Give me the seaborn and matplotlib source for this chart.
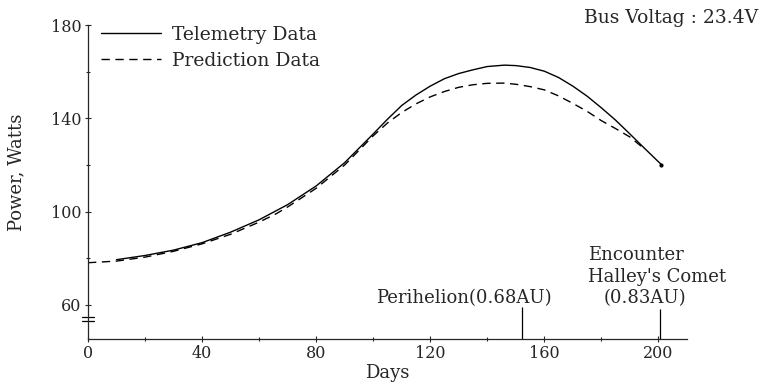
import numpy as np
import pandas as pd
import matplotlib
matplotlib.use("Agg")
import matplotlib.pyplot as plt
import seaborn as sns

# 遥测数据 (天, 功率 W)
tel_days = [10, 20, 30, 40, 50, 60, 70, 80, 90, 100, 105, 110, 115, 120, 125,
            130, 135, 140, 146, 150, 155, 160, 165, 170, 175, 180, 185, 190,
            195, 201]
tel_power = [79.4, 81.2, 83.5, 86.7, 91.2, 96.5, 103.0, 111.0, 121.0, 133.3,
             139.6, 145.5, 150.0, 153.8, 157.0, 159.2, 160.8, 162.2, 162.8,
             162.6, 161.8, 160.2, 157.5, 153.8, 149.5, 144.5, 139.2, 133.3,
             127.3, 120.2]

# 预测数据
pred_days = [0, 10, 20, 30, 40, 50, 60, 66, 70, 80, 90, 100, 105, 110, 115,
             120, 125, 130, 135, 140, 146, 150, 155, 160, 165, 170, 175, 180,
             185, 190, 195]
pred_power = [78.1, 78.8, 80.5, 83.0, 86.2, 90.3, 95.5, 99.1, 102.0, 110.0,
              120.0, 132.5, 138.0, 142.5, 146.2, 149.2, 151.5, 153.3, 154.4,
              155.0, 155.1, 154.6, 153.6, 152.2, 149.6, 146.4, 143.0, 139.0,
              135.6, 132.0, 127.0]

# 标注事件
event_days = [152, 200.5]

y_ticks = [60, 100, 140, 180]
x_ticks = [0, 40, 80, 120, 160, 200]

sns.set_style("ticks")
plt.rcParams['font.family'] = ['DejaVu Serif', 'Liberation Serif']
FS = 13.5
TFS = 11.5

df_tel = pd.DataFrame({'Days': tel_days, 'Power': tel_power})
df_pred = pd.DataFrame({'Days': pred_days, 'Power': pred_power})

fig = plt.figure(figsize=(7.63, 3.89), dpi=100)
ax = fig.add_axes([0.1153, 0.1285, 0.785, 0.8072])

sns.lineplot(data=df_tel, x='Days', y='Power', ax=ax, color='black',
             linewidth=1.0, sort=False, label='Telemetry Data')
sns.lineplot(data=df_pred, x='Days', y='Power', ax=ax, color='black',
             linewidth=1.0, sort=False, label='Prediction Data')
ax.lines[1].set_dashes([6, 4])
# 终点
ax.plot(tel_days[-1], tel_power[-1], 'o', color='black', markersize=2)

ax.set_xlim(0, 210)
ax.set_ylim(45.4, 180)
ax.set_xticks(x_ticks)
ax.set_yticks(y_ticks)
ax.set_xticks(range(20, 210, 40), minor=True)
ax.set_yticks([80, 120, 160], minor=True)
ax.tick_params(axis='both', which='major', direction='inout', length=5,
               width=0.8, labelsize=TFS, pad=2)
ax.tick_params(axis='both', which='minor', direction='inout', length=3,
               width=0.8)
sns.despine(ax=ax)
ax.spines['left'].set_linewidth(0.9)
ax.spines['bottom'].set_linewidth(0.9)

ax.set_xlabel('Days', fontsize=FS - 0.5, labelpad=1)
ax.set_ylabel('Power, Watts', fontsize=FS - 0.5)
ax.yaxis.set_label_coords(-0.105, 0.53)

# 轴断裂标记
for yb in [0.071, 0.058]:
    ax.plot([-0.01, 0.01], [yb, yb], transform=ax.transAxes,
            color='black', lw=0.9, clip_on=False)

# 事件标注
ax.vlines(event_days, 45.4, [59.1, 58.3], color='black', lw=0.9)
ax.text(0.628, 0.115, 'Perihelion(0.68AU)', transform=ax.transAxes,
        ha='center', va='baseline', fontsize=FS - 0.5)
ax.text(0.835, 0.252, 'Encounter', transform=ax.transAxes,
        ha='left', va='baseline', fontsize=FS - 0.5)
ax.text(0.835, 0.182, "Halley's Comet", transform=ax.transAxes,
        ha='left', va='baseline', fontsize=FS - 0.5)
ax.text(0.93, 0.115, '(0.83AU)', transform=ax.transAxes,
        ha='center', va='baseline', fontsize=FS - 0.5)

fig.text(0.993, 0.955, 'Bus Voltag : 23.4V', ha='right', va='center',
         fontsize=FS)

leg = ax.legend(loc='upper left', bbox_to_anchor=(0.0, 1.04), frameon=False,
                fontsize=FS, handlelength=3.2, handletextpad=0.6,
                labelspacing=0.45, borderaxespad=0.3)

fig.savefig('out.png', dpi=100)
